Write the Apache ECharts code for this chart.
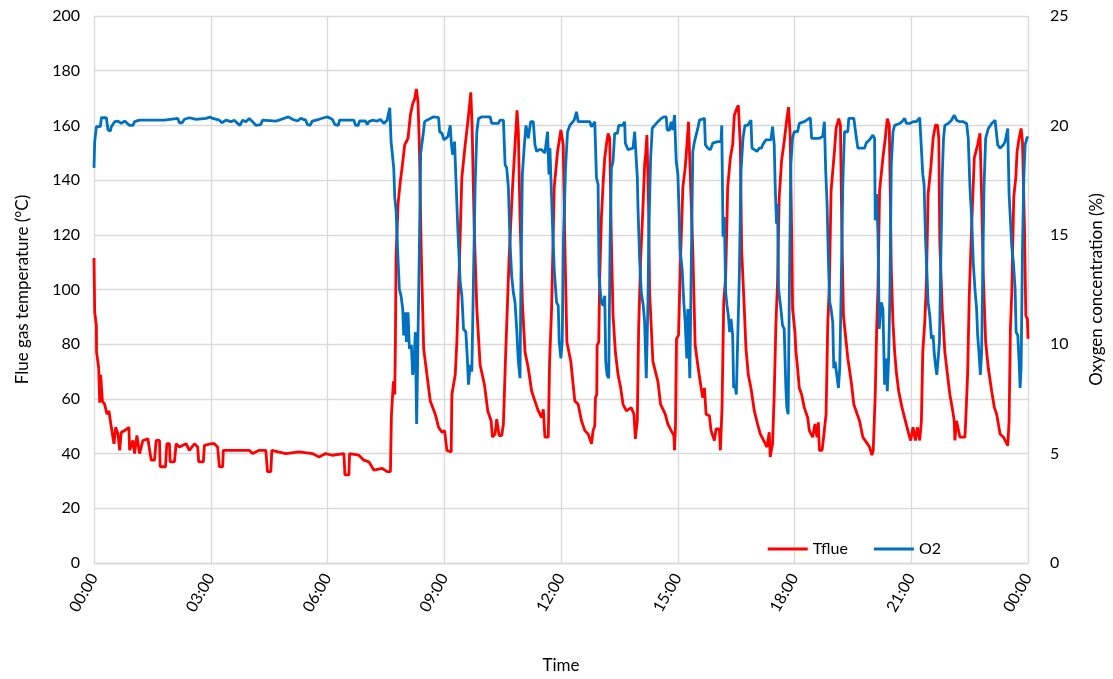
<!DOCTYPE html>
<html>
<head>
<meta charset="utf-8">
<script src="https://cdn.jsdelivr.net/npm/echarts@6/dist/echarts.min.js"></script>
<style>
  html, body { margin: 0; padding: 0; background: #fff; }
  #chart { width: 1113px; height: 679px; }
</style>
</head>
<body>
<div id="chart"></div>
<script>
// Flue gas temperature (°C), time in hours since midnight
const tflueTime = [
  0, 0.018, 0.061, 0.065, 0.121, 0.146, 0.172, 0.215, 0.274, 0.334, 0.385, 0.445, 0.513, 0.556, 0.616, 0.659, 0.701, 0.787, 0.898, 0.915,
  1.0, 1.043, 1.103, 1.171, 1.256, 1.384, 1.470, 1.555, 1.598, 1.683, 1.700, 1.837, 1.871, 1.939, 1.956, 2.067, 2.110, 2.195, 2.366, 2.452,
  2.580, 2.665, 2.691, 2.810, 2.836, 3.007, 3.092, 3.177, 3.220, 3.306, 3.323, 3.647, 3.989, 4.074, 4.245, 4.415, 4.458, 4.544, 4.569, 4.928,
  5.269, 5.611, 5.782, 5.952, 6.123, 6.422, 6.448, 6.550, 6.567, 6.806, 6.934, 7.062, 7.190, 7.404, 7.532, 7.617,
  7.642, 7.677, 7.694, 7.728, 7.745, 7.762, 7.813, 7.873, 7.916, 7.984, 8.069, 8.129, 8.189, 8.240, 8.283, 8.326, 8.360, 8.411, 8.471, 8.556,
  8.641, 8.769, 8.855, 8.941, 9.009, 9.068, 9.179, 9.196, 9.282, 9.324, 9.384, 9.452, 9.538, 9.606, 9.649, 9.683, 9.717, 9.769, 9.837, 9.922,
  10.033, 10.118, 10.204, 10.238, 10.306, 10.349, 10.409, 10.477, 10.520, 10.580, 10.665, 10.750, 10.819, 10.870, 10.904, 10.947, 11.007, 11.075, 11.160, 11.246,
  11.331, 11.416, 11.502, 11.545, 11.587, 11.673, 11.707, 11.758, 11.826, 11.912, 11.997, 12.057, 12.099, 12.151, 12.253, 12.355,
  12.441, 12.526, 12.612, 12.697, 12.783, 12.825, 12.868, 12.885, 12.919, 12.928, 12.970, 12.996, 13.039, 13.081, 13.124, 13.167, 13.210, 13.252, 13.295, 13.338,
  13.397, 13.466, 13.534, 13.594, 13.679, 13.807, 13.875, 13.910, 13.961, 13.995, 14.046, 14.106, 14.149, 14.174, 14.208, 14.251, 14.277, 14.362, 14.490, 14.559,
  14.678, 14.746, 14.832, 14.900, 14.917, 14.943, 14.968, 15.020, 15.071, 15.131, 15.191, 15.242, 15.276, 15.310, 15.387, 15.447, 15.515, 15.600, 15.643, 15.686,
  15.728, 15.814, 15.856, 15.942, 15.984, 16.070, 16.095, 16.138, 16.181, 16.232, 16.283, 16.351, 16.411, 16.454, 16.514, 16.557, 16.608, 16.642, 16.710, 16.753,
  16.813, 16.881, 16.967, 17.052, 17.120, 17.206, 17.291, 17.351, 17.376, 17.436, 17.479, 17.521, 17.564, 17.607, 17.667, 17.735, 17.794, 17.846, 17.889, 17.931,
  17.951, 18.011, 18.037, 18.080, 18.123, 18.183, 18.252, 18.338, 18.381, 18.467, 18.527, 18.579, 18.613, 18.639, 18.708, 18.734, 18.785, 18.811, 18.854, 18.897,
  18.940, 19.026, 19.069, 19.137, 19.180, 19.215, 19.258, 19.327, 19.370, 19.456, 19.525, 19.611, 19.671, 19.757, 19.843, 19.929, 19.989, 20.023, 20.075, 20.109,
  20.144, 20.186, 20.272, 20.333, 20.384, 20.436, 20.487, 20.530, 20.573, 20.616, 20.677, 20.763, 20.849, 20.935, 20.986, 21.046, 21.107, 21.158, 21.218, 21.261,
  21.296, 21.347, 21.390, 21.433, 21.502, 21.562, 21.622, 21.674, 21.708, 21.734, 21.795, 21.863, 21.932, 21.992, 22.052, 22.104, 22.121, 22.164, 22.250, 22.379,
  22.396, 22.448, 22.491, 22.551, 22.620, 22.706, 22.766, 22.809, 22.852, 22.912, 22.981, 23.067, 23.136, 23.196, 23.282, 23.368, 23.411, 23.480, 23.514, 23.548,
  23.583, 23.634, 23.686, 23.720, 23.772, 23.823, 23.858, 23.909, 23.944, 23.985, 24.0
];
const tflueValue = [
  111.5, 91.6, 86.9, 77.2, 71.2, 58.6, 68.8, 59.2, 58.0, 54.4, 55.6, 49.6, 43.6, 49.6, 47.2, 41.2, 47.8, 48.4, 49.6, 41.2,
  44.8, 40.0, 46.6, 40.0, 44.8, 45.4, 37.6, 37.6, 44.8, 44.8, 35.2, 35.2, 43.6, 43.6, 37.0, 37.0, 43.6, 42.4, 43.6, 41.2,
  43.6, 42.4, 37.0, 37.0, 43.0, 43.6, 43.6, 42.4, 35.2, 35.2, 41.2, 41.2, 41.2, 40.0, 41.2, 41.2, 33.4, 33.4, 41.2, 40.0,
  40.6, 40.0, 38.8, 40.0, 39.4, 40.0, 32.2, 32.2, 40.0, 39.4, 37.6, 37.0, 34.0, 34.6, 33.4, 33.4,
  53.8, 54.4, 66.4, 61.6, 80.8, 112.1, 131.3, 139.7, 144.5, 152.9, 155.3, 163.7, 167.9, 169.7, 173.3, 168.5, 152.9, 112.1, 78.4, 68.8,
  59.2, 54.4, 49.6, 47.8, 48.4, 41.2, 40.6, 61.6, 68.8, 80.8, 107.3, 140.9, 152.9, 161.3, 167.3, 172.1, 158.9, 122.9, 92.9, 72.4,
  65.2, 55.6, 52.0, 46.0, 47.2, 52.6, 46.6, 46.6, 50.8, 77.2, 110.9, 136.1, 152.9, 165.5, 157.7, 126.5, 95.3, 77.2, 71.2, 62.8,
  59.2, 55.6, 53.2, 56.2, 46.0, 46.0, 73.6, 92.9, 137.3, 150.5, 158.3, 152.9, 116.9, 80.8, 73.6, 59.2,
  58.0, 52.0, 48.4, 47.2, 43.6, 48.4, 50.2, 60.4, 61.6, 79.6, 80.8, 104.9, 126.5, 138.5, 148.1, 152.9, 157.1, 155.3, 116.9, 90.4,
  77.2, 68.8, 64.0, 58.0, 55.6, 56.8, 54.4, 45.4, 52.0, 85.6, 110.9, 130.1, 145.7, 149.3, 156.5, 130.1, 98.9, 73.6, 66.4, 58.0,
  54.4, 50.8, 48.4, 46.6, 41.2, 50.8, 82.0, 83.3, 110.9, 137.3, 144.5, 154.1, 161.3, 146.9, 114.5, 79.6, 72.4, 64.0, 60.4, 64.0,
  54.4, 53.8, 48.4, 44.8, 49.0, 49.0, 41.2, 56.8, 95.3, 104.9, 137.3, 148.1, 152.9, 163.7, 166.1, 167.3, 152.9, 114.5, 92.9, 78.4,
  68.8, 64.0, 55.6, 50.8, 47.2, 44.8, 42.4, 47.8, 38.8, 43.6, 61.6, 86.8, 102.5, 133.7, 146.9, 154.1, 161.3, 166.7, 156.5, 116.9,
  92.9, 84.4, 77.2, 71.2, 64.0, 61.6, 56.8, 53.2, 48.4, 46.0, 50.8, 46.0, 51.4, 41.2, 41.2, 44.2, 44.8, 54.4, 86.8, 102.5,
  136.1, 150.5, 158.9, 162.5, 160.1, 122.9, 90.4, 80.8, 74.8, 66.4, 58.0, 54.4, 52.0, 46.0, 44.2, 42.4, 39.4, 41.2, 61.6, 84.4,
  100.1, 136.1, 148.1, 155.3, 162.5, 160.1, 107.3, 88.0, 77.2, 70.0, 62.8, 56.8, 52.0, 47.2, 44.8, 49.6, 44.8, 49.6, 44.8, 52.0,
  77.2, 88.0, 102.5, 134.9, 144.5, 155.3, 160.1, 160.1, 155.3, 116.9, 92.9, 77.2, 68.8, 61.6, 56.8, 52.0, 44.8, 52.0, 46.0, 46.0,
  50.8, 68.8, 97.7, 122.9, 148.1, 152.9, 157.1, 133.7, 104.9, 80.8, 71.2, 62.8, 56.8, 54.4, 47.2, 46.0, 44.8, 42.9, 52.0, 85.6,
  98.9, 133.7, 140.9, 150.5, 155.3, 158.9, 154.1, 122.9, 90.4, 89.2, 82.0
];

// Oxygen concentration (%), time in hours since midnight
const o2Time = [
  0, 0.018, 0.061, 0.163, 0.189, 0.317, 0.360, 0.420, 0.445, 0.531, 0.616, 0.701, 0.787, 0.915, 1.0, 1.043, 1.171, 1.811, 1.837, 2.153,
  2.195, 2.264, 2.324, 2.452, 2.622, 2.878, 2.981, 3.049, 3.220, 3.288, 3.391, 3.519, 3.604, 3.690, 3.750, 3.818, 3.903, 3.989, 4.074, 4.159,
  4.287, 4.330, 4.672, 4.757, 4.928, 4.996, 5.099, 5.227, 5.312, 5.440, 5.483, 5.551, 5.611, 5.782, 5.910, 5.995, 6.123, 6.191, 6.277, 6.311,
  6.678, 6.721, 6.789, 6.823, 6.977, 7.020, 7.062, 7.148, 7.276, 7.361, 7.447, 7.489, 7.532, 7.600, 7.634, 7.677, 7.702, 7.728, 7.762, 7.805,
  7.847, 7.890, 7.933, 7.958, 8.001, 8.027, 8.069, 8.104, 8.155, 8.189, 8.223, 8.257, 8.291, 8.326, 8.360, 8.394, 8.445, 8.496, 8.556, 8.727,
  8.855, 8.881, 8.941, 8.992, 9.094, 9.154, 9.179, 9.214, 9.265, 9.299, 9.350, 9.410, 9.453, 9.495, 9.555, 9.589, 9.623, 9.666, 9.709, 9.752,
  9.794, 9.837, 9.880, 9.965, 10.178, 10.221, 10.392, 10.435, 10.520, 10.563, 10.605, 10.648, 10.691, 10.733, 10.776, 10.819, 10.861, 10.904, 10.947, 10.972,
  11.007, 11.058, 11.101, 11.160, 11.220, 11.288, 11.331, 11.374, 11.442, 11.502, 11.587, 11.655, 11.690, 11.715, 11.741, 11.784, 11.826, 11.886, 11.929, 11.954,
  11.997, 12.031, 12.065, 12.117, 12.168, 12.228, 12.339, 12.398, 12.441, 12.740, 12.783, 12.868, 12.911, 12.953, 12.979, 13.013, 13.039, 13.081, 13.124, 13.150,
  13.184, 13.227, 13.261, 13.295, 13.338, 13.380, 13.449, 13.483, 13.577, 13.636, 13.653, 13.722, 13.850, 13.893, 13.935, 13.961, 13.978, 14.021, 14.063, 14.114,
  14.149, 14.191, 14.234, 14.260, 14.303, 14.345, 14.405, 14.490, 14.576, 14.644, 14.704, 14.729, 14.789, 14.832, 14.874, 14.917, 14.960, 15.003, 15.028, 15.062,
  15.113, 15.156, 15.191, 15.233, 15.259, 15.310, 15.344, 15.387, 15.430, 15.472, 15.515, 15.558, 15.686, 15.711, 15.771, 15.839, 15.899, 16.027, 16.112, 16.130,
  16.164, 16.198, 16.232, 16.266, 16.300, 16.334, 16.369, 16.411, 16.437, 16.471, 16.505, 16.539, 16.582, 16.625, 16.676, 16.727, 16.795, 16.838, 16.881, 16.907,
  16.967, 17.035, 17.094, 17.154, 17.180, 17.265, 17.393, 17.436, 17.462, 17.479, 17.505, 17.539, 17.564, 17.590, 17.650, 17.692, 17.735, 17.778, 17.803, 17.837,
  17.872, 17.906, 17.948, 17.991, 18.080, 18.123, 18.252, 18.407, 18.441, 18.639, 18.725, 18.768, 18.802, 18.837, 18.871, 18.905, 18.940, 18.983, 19.009, 19.043,
  19.077, 19.129, 19.163, 19.198, 19.241, 19.284, 19.370, 19.395, 19.525, 19.585, 19.628, 19.800, 19.843, 19.929, 20.015, 20.058, 20.075, 20.109, 20.144, 20.178,
  20.230, 20.273, 20.315, 20.358, 20.384, 20.419, 20.453, 20.487, 20.531, 20.573, 20.702, 20.763, 20.831, 20.874, 20.960, 21.046, 21.132, 21.218, 21.261, 21.296,
  21.330, 21.365, 21.399, 21.433, 21.476, 21.520, 21.562, 21.588, 21.622, 21.657, 21.691, 21.725, 21.760, 21.795, 21.829, 21.863, 21.949, 22.035, 22.104, 22.164,
  22.250, 22.336, 22.422, 22.465, 22.508, 22.551, 22.594, 22.637, 22.680, 22.706, 22.740, 22.775, 22.809, 22.835, 22.869, 22.912, 22.981, 23.067, 23.153, 23.196,
  23.222, 23.282, 23.368, 23.411, 23.480, 23.514, 23.540, 23.583, 23.626, 23.669, 23.695, 23.738, 23.772, 23.797, 23.823, 23.858, 23.892, 23.926, 23.969, 24.0
];
const o2Value = [
  18.06, 19.26, 19.94, 19.94, 20.35, 20.35, 19.79, 19.74, 19.94, 20.17, 20.2, 20.09, 20.2, 20.0, 20.0, 20.17, 20.24, 20.24, 20.32, 20.32,
  20.12, 20.12, 20.28, 20.35, 20.28, 20.32, 20.38, 20.32, 20.24, 20.12, 20.24, 20.17, 20.24, 20.09, 20.0, 20.24, 20.17, 20.32, 20.17, 20.0,
  20.04, 20.24, 20.2, 20.24, 20.35, 20.39, 20.28, 20.2, 20.32, 20.24, 20.04, 20.0, 20.2, 20.28, 20.35, 20.39, 20.28, 20.04, 20.0, 20.24,
  20.24, 20.0, 20.0, 20.2, 20.2, 20.04, 20.17, 20.24, 20.2, 20.27, 20.09, 20.09, 20.24, 20.8, 19.26, 19.19, 18.06, 16.71, 16.11, 14.16,
  12.51, 12.21, 11.6, 10.4, 11.46, 10.1, 11.46, 9.8, 9.96, 8.6, 9.2, 10.55, 6.35, 10.4, 14.31, 18.74, 19.41, 20.17, 20.24, 20.39,
  20.35, 19.71, 19.64, 19.34, 19.49, 20.0, 19.26, 18.66, 19.26, 17.61, 15.21, 12.81, 12.21, 10.7, 10.55, 9.5, 8.15, 9.05, 8.75, 13.11,
  17.31, 19.71, 20.32, 20.39, 20.39, 20.09, 20.09, 20.24, 20.24, 18.21, 18.06, 17.16, 14.61, 13.11, 12.36, 11.91, 10.7, 9.2, 8.45, 13.11,
  17.76, 19.11, 20.0, 19.41, 20.17, 20.17, 19.11, 18.81, 18.89, 18.89, 18.74, 19.71, 17.76, 18.96, 17.61, 15.36, 13.41, 11.91, 11.76, 10.1,
  9.35, 10.1, 14.91, 18.06, 19.71, 20.0, 20.24, 20.62, 20.17, 20.17, 19.94, 20.17, 17.61, 17.31, 13.11, 12.36, 11.91, 11.76, 12.21, 9.2,
  8.6, 8.45, 14.61, 18.06, 18.36, 19.64, 19.64, 20.0, 20.0, 20.17, 19.19, 18.89, 18.96, 19.71, 19.64, 17.61, 16.26, 13.86, 12.36, 11.76,
  11.0, 8.45, 11.91, 15.36, 18.51, 19.87, 20.0, 20.17, 20.32, 20.39, 20.39, 19.79, 19.79, 20.17, 19.79, 20.47, 18.36, 17.76, 16.41, 14.31,
  13.41, 11.91, 11.0, 9.35, 11.61, 8.45, 13.11, 18.81, 19.26, 19.34, 19.86, 20.24, 20.32, 19.11, 18.96, 18.89, 19.19, 19.26, 19.26, 20.0,
  14.91, 15.81, 12.36, 11.76, 11.31, 10.55, 11.16, 10.4, 8.0, 8.15, 7.7, 10.1, 13.11, 17.91, 19.41, 20.0, 20.0, 20.09, 20.24, 18.96,
  18.89, 18.81, 18.96, 18.96, 19.11, 19.34, 19.34, 19.94, 20.0, 19.11, 17.16, 15.51, 16.41, 12.51, 11.61, 10.86, 10.7, 8.0, 7.1, 6.8,
  13.11, 18.21, 19.41, 19.71, 19.71, 20.09, 20.17, 20.35, 19.41, 19.41, 19.49, 20.17, 17.91, 16.41, 13.86, 11.91, 11.61, 11.0, 8.9, 9.2,
  9.2, 8.0, 8.9, 12.36, 17.31, 19.71, 19.71, 20.32, 20.32, 19.49, 18.96, 18.96, 19.19, 19.34, 19.56, 19.41, 15.66, 16.86, 15.06, 10.7,
  11.91, 11.61, 8.15, 9.35, 7.85, 9.35, 12.51, 18.21, 19.71, 20.0, 20.09, 20.17, 20.32, 20.09, 20.09, 20.17, 20.17, 20.35, 20.32, 17.76,
  17.31, 14.91, 13.41, 11.91, 11.31, 10.25, 10.4, 9.65, 9.05, 8.6, 9.35, 10.1, 13.86, 17.61, 19.41, 20.0, 20.09, 20.24, 20.47, 20.24,
  20.17, 20.17, 20.09, 19.41, 17.16, 15.81, 13.71, 12.51, 11.61, 10.4, 9.65, 8.6, 9.65, 13.11, 17.16, 19.41, 19.86, 20.09, 20.24, 20.17,
  19.11, 18.96, 19.11, 19.26, 19.86, 16.86, 16.86, 14.46, 13.71, 12.51, 10.55, 10.4, 9.2, 8.0, 8.9, 14.31, 17.61, 19.11, 19.41, 19.49
];

// Axis tick settings
const hourTicks = { min: 0, max: 24, interval: 3 };
const tempTicks = { min: 0, max: 200, interval: 20 };
const o2Ticks = { min: 0, max: 25, interval: 5 };

const pairs = (xs, ys) => xs.map((x, i) => [x, ys[i]]);
const fmtHour = h => String(Math.round(h) % 24).padStart(2, '0') + ':00';

const FONT = 'Lato, "Open Sans", "Liberation Sans", sans-serif';
const TEXT = '#000';
const GRID = '#d9d9d9';
const RED = '#ff0000';
const BLUE = '#0070c0';

const chart = echarts.init(document.getElementById('chart'), null, { renderer: 'canvas' });
chart.setOption({
  backgroundColor: '#fff',
  animation: false,
  textStyle: { fontFamily: FONT },
  grid: { left: 94, right: 82, top: 16, bottom: 108, containLabel: false },
  legend: {
    right: 167,
    top: 536,
    itemWidth: 40,
    itemHeight: 3,
    itemGap: 26,
    icon: 'rect',
    textStyle: { fontFamily: FONT, fontSize: 16, color: TEXT },
    data: ['Tflue', 'O2']
  },
  xAxis: {
    type: 'value',
    min: hourTicks.min,
    max: hourTicks.max,
    interval: hourTicks.interval,
    name: 'Time',
    nameLocation: 'middle',
    nameGap: 94,
    nameTextStyle: { fontFamily: FONT, fontSize: 17, color: TEXT },
    axisLine: { show: true, lineStyle: { color: GRID, width: 1.3 } },
    axisTick: { show: false },
    splitLine: { show: true, lineStyle: { color: GRID, width: 1.3 } },
    axisLabel: {
      rotate: 60,
      margin: 12,
      fontFamily: FONT,
      fontSize: 16,
      color: TEXT,
      formatter: fmtHour
    }
  },
  yAxis: [
    {
      type: 'value',
      position: 'left',
      min: tempTicks.min,
      max: tempTicks.max,
      interval: tempTicks.interval,
      name: 'Flue gas temperature (°C)',
      nameLocation: 'middle',
      nameGap: 63,
      nameRotate: 90,
      nameTextStyle: { fontFamily: FONT, fontSize: 17, color: TEXT },
      axisLine: { show: false },
      axisTick: { show: false },
      splitLine: { show: true, lineStyle: { color: GRID, width: 1.3 } },
      axisLabel: { margin: 14, fontFamily: FONT, fontSize: 16, color: TEXT }
    },
    {
      type: 'value',
      position: 'right',
      min: o2Ticks.min,
      max: o2Ticks.max,
      interval: o2Ticks.interval,
      name: 'Oxygen concentration (%)',
      nameLocation: 'middle',
      nameGap: 60,
      nameRotate: 90,
      nameTextStyle: { fontFamily: FONT, fontSize: 17, color: TEXT },
      axisLine: { show: false },
      axisTick: { show: false },
      splitLine: { show: false },
      axisLabel: { margin: 22, fontFamily: FONT, fontSize: 16, color: TEXT }
    }
  ],
  series: [
    {
      name: 'Tflue',
      type: 'line',
      yAxisIndex: 0,
      data: pairs(tflueTime, tflueValue),
      symbol: 'none',
      color: RED,
      lineStyle: { color: RED, width: 2.8 }
    },
    {
      name: 'O2',
      type: 'line',
      yAxisIndex: 1,
      data: pairs(o2Time, o2Value),
      symbol: 'none',
      color: BLUE,
      lineStyle: { color: BLUE, width: 2.8 }
    }
  ]
});
</script>
</body>
</html>
